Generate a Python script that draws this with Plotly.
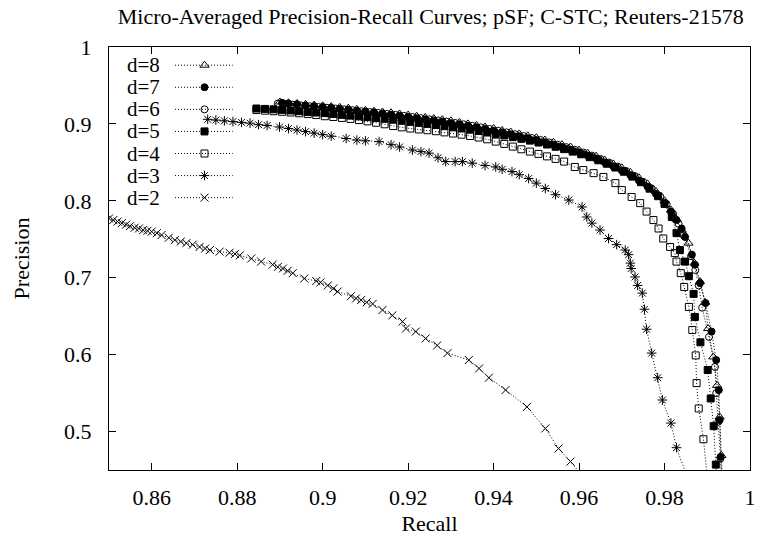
import plotly.graph_objects as go

# ---------------- data ----------------
series_names = ["d=8", "d=7", "d=6", "d=5", "d=4", "d=3", "d=2"]

recall_d8 = [0.890, 0.892, 0.894, 0.896, 0.898, 0.900, 0.902, 0.904, 0.906, 0.908,
             0.910, 0.912, 0.914, 0.916, 0.918, 0.920, 0.922, 0.924, 0.926, 0.928,
             0.930, 0.932, 0.934, 0.936, 0.938, 0.940, 0.942, 0.944, 0.946, 0.948,
             0.950, 0.952, 0.954, 0.956, 0.958, 0.960, 0.962, 0.964, 0.966, 0.968,
             0.970, 0.972, 0.974, 0.976, 0.978, 0.980, 0.9815, 0.9828, 0.9840, 0.9856,
             0.9870, 0.9883, 0.9895, 0.9902, 0.9914, 0.9923, 0.9929, 0.9933, 0.9936]
precision_d8 = [0.9285, 0.9275, 0.9265, 0.9255, 0.9245, 0.9235, 0.9225, 0.9215, 0.9205, 0.9190,
                0.9175, 0.9165, 0.9155, 0.9145, 0.9130, 0.9115, 0.9100, 0.9085, 0.9070, 0.9055,
                0.9040, 0.9020, 0.9000, 0.8980, 0.8960, 0.8940, 0.8915, 0.8895, 0.8870, 0.8845,
                0.8820, 0.8790, 0.8760, 0.8730, 0.8700, 0.8660, 0.8620, 0.8580, 0.8530, 0.8480,
                0.8430, 0.8370, 0.8300, 0.8220, 0.8120, 0.8000, 0.788, 0.776, 0.762, 0.745,
                0.719, 0.695, 0.668, 0.634, 0.597, 0.560, 0.519, 0.469, 0.430]

recall_d7 = [0.8905, 0.892, 0.894, 0.896, 0.898, 0.900, 0.902, 0.904, 0.906, 0.908,
             0.910, 0.912, 0.914, 0.916, 0.918, 0.920, 0.922, 0.924, 0.926, 0.928,
             0.930, 0.932, 0.934, 0.936, 0.938, 0.940, 0.942, 0.944, 0.946, 0.948,
             0.950, 0.952, 0.954, 0.956, 0.958, 0.960, 0.962, 0.964, 0.966, 0.968,
             0.970, 0.972, 0.974, 0.976, 0.978, 0.980, 0.9815, 0.9828, 0.9840, 0.9848,
             0.9864, 0.9871, 0.9883, 0.9896, 0.9910, 0.9921, 0.9927, 0.9929, 0.9931, 0.9934]
precision_d7 = [0.9275, 0.9265, 0.9255, 0.9240, 0.9230, 0.9220, 0.9210, 0.9195, 0.9185, 0.9170,
                0.9160, 0.9150, 0.9135, 0.9120, 0.9105, 0.9090, 0.9075, 0.9060, 0.9045, 0.9030,
                0.9010, 0.8995, 0.8975, 0.8955, 0.8935, 0.8910, 0.8890, 0.8865, 0.8840, 0.8815,
                0.8790, 0.8760, 0.8730, 0.8700, 0.8665, 0.8630, 0.8590, 0.8550, 0.8500, 0.8450,
                0.8395, 0.8335, 0.8265, 0.8185, 0.8090, 0.7975, 0.786, 0.775, 0.764, 0.753,
                0.730, 0.717, 0.693, 0.667, 0.630, 0.593, 0.554, 0.515, 0.467, 0.430]

recall_d6 = [0.8895, 0.891, 0.893, 0.895, 0.897, 0.899, 0.901, 0.903, 0.905, 0.907,
             0.909, 0.911, 0.913, 0.915, 0.917, 0.919, 0.921, 0.923, 0.925, 0.927,
             0.929, 0.931, 0.933, 0.935, 0.937, 0.939, 0.941, 0.943, 0.945, 0.947,
             0.949, 0.951, 0.953, 0.955, 0.957, 0.959, 0.961, 0.963, 0.965, 0.967,
             0.969, 0.971, 0.973, 0.975, 0.977, 0.979, 0.9805, 0.982, 0.9833, 0.9845,
             0.9862, 0.9872, 0.9880, 0.9888, 0.9904, 0.9918, 0.9921, 0.9926, 0.9931, 0.9934]
precision_d6 = [0.9265, 0.9260, 0.9250, 0.9240, 0.9230, 0.9220, 0.9210, 0.9200, 0.9190, 0.9178,
                0.9165, 0.9155, 0.9143, 0.9130, 0.9118, 0.9105, 0.9090, 0.9075, 0.9060, 0.9045,
                0.9030, 0.9012, 0.8995, 0.8975, 0.8955, 0.8935, 0.8912, 0.8890, 0.8866, 0.8842,
                0.8816, 0.8790, 0.8760, 0.8730, 0.8698, 0.8664, 0.8628, 0.8588, 0.8545, 0.8498,
                0.8445, 0.8388, 0.8322, 0.8245, 0.8158, 0.8055, 0.7955, 0.783, 0.770, 0.755,
                0.728, 0.710, 0.690, 0.661, 0.623, 0.584, 0.550, 0.513, 0.465, 0.430]

recall_d5 = [0.8845, 0.8865, 0.8885, 0.8905, 0.8925, 0.8945, 0.8965, 0.8985, 0.9005, 0.9025,
             0.9045, 0.9065, 0.9085, 0.9105, 0.9125, 0.9145, 0.9165, 0.9185, 0.9205, 0.9225,
             0.9245, 0.9265, 0.9285, 0.9305, 0.9325, 0.9345, 0.9365, 0.9385, 0.9405, 0.9425,
             0.9445, 0.9465, 0.9485, 0.9505, 0.9525, 0.9545, 0.9565, 0.9585, 0.9605, 0.9625,
             0.9645, 0.9665, 0.9685, 0.9705, 0.9725, 0.9745, 0.9765, 0.9785, 0.9800, 0.9817,
             0.9828, 0.9836, 0.9848, 0.9857, 0.9868, 0.9871, 0.9884, 0.9901, 0.9908, 0.9915,
             0.9920, 0.9923]
precision_d5 = [0.9200, 0.9195, 0.9190, 0.9182, 0.9175, 0.9165, 0.9155, 0.9148, 0.9140, 0.9130,
                0.9118, 0.9108, 0.9098, 0.9088, 0.9077, 0.9066, 0.9055, 0.9042, 0.9028, 0.9015,
                0.9000, 0.8985, 0.8970, 0.8955, 0.8940, 0.8925, 0.8908, 0.8890, 0.8870, 0.8850,
                0.8828, 0.8806, 0.8783, 0.8758, 0.8732, 0.8703, 0.8672, 0.8640, 0.8605, 0.8568,
                0.8527, 0.8482, 0.8433, 0.8378, 0.8315, 0.8242, 0.8158, 0.8060, 0.7960, 0.779,
                0.758, 0.736, 0.721, 0.702, 0.679, 0.649, 0.616, 0.580, 0.543, 0.507,
                0.457, 0.420]

recall_d4 = [0.8845, 0.8865, 0.8885, 0.8905, 0.8925, 0.8945, 0.8965, 0.8985, 0.9005, 0.9025,
             0.9045, 0.9065, 0.9085, 0.9105, 0.9125, 0.9145, 0.9165, 0.9185, 0.9205, 0.9225,
             0.9245, 0.9265, 0.9285, 0.9305, 0.9325, 0.9345, 0.9365, 0.9385, 0.9405, 0.9425,
             0.9445, 0.9465, 0.9485, 0.9505, 0.9525, 0.9545, 0.9565, 0.9590, 0.9610, 0.9634,
             0.9657, 0.9685, 0.9700, 0.9723, 0.9743, 0.9758, 0.9774, 0.9786, 0.9797, 0.9813,
             0.9824, 0.9828, 0.9838, 0.9846, 0.9857, 0.9865, 0.9873, 0.9875, 0.9880, 0.9891,
             0.9900]
precision_d4 = [0.9180, 0.9172, 0.9165, 0.9157, 0.9148, 0.9138, 0.9128, 0.9115, 0.9100, 0.9090,
                0.9078, 0.9065, 0.9050, 0.9033, 0.9015, 0.8995, 0.8972, 0.8955, 0.8940, 0.8928,
                0.8918, 0.8905, 0.8890, 0.8875, 0.8860, 0.8843, 0.8823, 0.8800, 0.8770, 0.8740,
                0.8705, 0.8670, 0.8640, 0.8610, 0.8578, 0.8545, 0.8510, 0.8440, 0.8400, 0.8360,
                0.8310, 0.8230, 0.8140, 0.8050, 0.7970, 0.7860, 0.7750, 0.7640, 0.7510, 0.7400,
                0.7320, 0.7210, 0.7060, 0.6880, 0.6620, 0.6320, 0.5990, 0.5630, 0.5300, 0.4900,
                0.4400]

recall_d3 = [0.8731, 0.8750, 0.8770, 0.8790, 0.8810, 0.8830, 0.8850, 0.8870, 0.8899, 0.8920,
             0.8940, 0.8960, 0.8980, 0.9000, 0.9020, 0.9055, 0.9080, 0.9100, 0.9132, 0.9160,
             0.9180, 0.9210, 0.9230, 0.9249, 0.9270, 0.9288, 0.9310, 0.9327, 0.9350, 0.9380,
             0.9405, 0.9420, 0.9443, 0.9460, 0.9482, 0.9500, 0.9521, 0.9545, 0.9576, 0.9607,
             0.9618, 0.9630, 0.9649, 0.9669, 0.9688, 0.9708, 0.9716, 0.9720, 0.9722, 0.9731,
             0.9737, 0.9748, 0.9753, 0.9758, 0.9770, 0.9784, 0.9795, 0.9815, 0.9828, 0.9860]
precision_d3 = [0.906, 0.905, 0.904, 0.903, 0.902, 0.901, 0.899, 0.898, 0.896, 0.894,
                0.892, 0.890, 0.888, 0.886, 0.884, 0.881, 0.879, 0.878, 0.877, 0.873,
                0.870, 0.866, 0.864, 0.862, 0.856, 0.851, 0.851, 0.851, 0.849, 0.846,
                0.844, 0.841, 0.838, 0.834, 0.829, 0.823, 0.816, 0.808, 0.801, 0.792,
                0.779, 0.771, 0.762, 0.751, 0.743, 0.736, 0.730, 0.719, 0.712, 0.701,
                0.690, 0.680, 0.659, 0.633, 0.602, 0.570, 0.541, 0.511, 0.479, 0.430]

recall_d2 = [0.8450, 0.8470, 0.8490, 0.8500, 0.8510, 0.8520, 0.8530, 0.8540, 0.8549, 0.8560,
             0.8570, 0.8580, 0.8590, 0.8600, 0.8612, 0.8623, 0.8640, 0.8654, 0.8668, 0.8681,
             0.8696, 0.8712, 0.8725, 0.8736, 0.8759, 0.8782, 0.8795, 0.8806, 0.8833, 0.8856,
             0.8883, 0.8895, 0.8907, 0.8918, 0.8930, 0.8957, 0.8985, 0.8995, 0.9012, 0.9025,
             0.9035, 0.9066, 0.9078, 0.9090, 0.9103, 0.9117, 0.9140, 0.9163, 0.9187, 0.9195,
             0.9218, 0.9241, 0.9268, 0.9292, 0.9342, 0.9366, 0.9389, 0.9428, 0.9478, 0.9521,
             0.9552, 0.9580, 0.9625]
precision_d2 = [0.784, 0.781, 0.779, 0.777, 0.775, 0.773, 0.771, 0.769, 0.767, 0.765,
                0.764, 0.762, 0.761, 0.760, 0.758, 0.7555, 0.752, 0.749, 0.747, 0.745,
                0.743, 0.740, 0.738, 0.736, 0.734, 0.7325, 0.731, 0.729, 0.725, 0.721,
                0.717, 0.714, 0.712, 0.709, 0.706, 0.699, 0.6957, 0.694, 0.690, 0.686,
                0.682, 0.676, 0.673, 0.671, 0.668, 0.666, 0.658, 0.651, 0.643, 0.634,
                0.630, 0.621, 0.612, 0.602, 0.593, 0.582, 0.570, 0.554, 0.532, 0.504,
                0.478, 0.461, 0.430]

x_tick_values = [0.86, 0.88, 0.90, 0.92, 0.94, 0.96, 0.98, 1.00]
x_tick_labels = ["0.86", "0.88", "0.9", "0.92", "0.94", "0.96", "0.98", "1"]
y_tick_values = [0.5, 0.6, 0.7, 0.8, 0.9, 1.0]
y_tick_labels = ["0.5", "0.6", "0.7", "0.8", "0.9", "1"]

title_text = "Micro-Averaged Precision-Recall Curves; pSF; C-STC; Reuters-21578"
x_title = "Recall"
y_title = "Precision"

# ---------------- styling ----------------
FONT = "Liberation Serif"
TXT = 22
LEG_TXT = 21
symbols = ["triangle-up-open", "circle", "circle-open", "square", "square-open",
           "asterisk-open", "x-thin-open"]
sizes = [8, 7, 7, 7, 7, 8, 8]
DASH = "1px,2px"

recalls = [recall_d8, recall_d7, recall_d6, recall_d5, recall_d4, recall_d3, recall_d2]
precisions = [precision_d8, precision_d7, precision_d6, precision_d5, precision_d4,
              precision_d3, precision_d2]

fig = go.Figure()

for name, xs, ys, sym, sz in zip(series_names, recalls, precisions, symbols, sizes):
    fig.add_trace(go.Scatter(
        x=xs, y=ys, mode="lines+markers", name=name, showlegend=False,
        line=dict(color="black", width=1, dash=DASH),
        marker=dict(symbol=sym, size=sz, color="black",
                    line=dict(color="black", width=1)),
    ))

# gnuplot-style key: label on the left, sample on the right (overlay axes 0..1)
LEG_TEXT_X = 0.083
LEG_X0, LEG_XM, LEG_X1 = 0.103, 0.149, 0.193
LEG_Y0, LEG_DY = 0.957, 0.0522
annotations = []
for i, (name, sym, sz) in enumerate(zip(series_names, symbols, sizes)):
    yy = LEG_Y0 - i * LEG_DY
    fig.add_trace(go.Scatter(
        x=[LEG_X0, LEG_X1], y=[yy, yy], mode="lines", xaxis="x2", yaxis="y2",
        showlegend=False, hoverinfo="skip",
        line=dict(color="black", width=1, dash=DASH)))
    fig.add_trace(go.Scatter(
        x=[LEG_XM], y=[yy], mode="markers", xaxis="x2", yaxis="y2",
        showlegend=False, hoverinfo="skip",
        marker=dict(symbol=sym, size=sz, color="black",
                    line=dict(color="black", width=1))))
    annotations.append(dict(
        x=LEG_TEXT_X, y=yy, xref="x2", yref="y2", text=name, showarrow=False,
        xanchor="right", yanchor="middle", height=20,
        font=dict(family=FONT, size=LEG_TXT, color="black")))

axis_common = dict(
    showline=True, linecolor="black", linewidth=1, mirror="ticks",
    ticks="inside", ticklen=7, tickwidth=1, tickcolor="black",
    showgrid=False, zeroline=False, ticklabeloverflow="allow", automargin=False,
    tickfont=dict(family=FONT, size=TXT, color="black"),
)

fig.update_layout(
    width=757, height=541,
    margin=dict(l=109, r=7, t=47, b=71, autoexpand=False),
    paper_bgcolor="white", plot_bgcolor="white",
    title=dict(text=title_text, x=0.569, xanchor="center", y=0.970, yanchor="middle",
               font=dict(family=FONT, size=TXT, color="black")),
    xaxis=dict(range=[0.85, 1.0], tickvals=x_tick_values, ticktext=x_tick_labels,
               ticklabelstandoff=8,
               title=dict(text=x_title, font=dict(family=FONT, size=TXT, color="black"),
                          standoff=6),
               **axis_common),
    yaxis=dict(range=[0.45, 1.0], tickvals=y_tick_values, ticktext=y_tick_labels,
               ticklabelstandoff=12,
               title=dict(text=y_title, font=dict(family=FONT, size=TXT, color="black"),
                          standoff=28),
               **axis_common),
    xaxis2=dict(range=[0, 1], overlaying="x", visible=False, anchor="y2"),
    yaxis2=dict(range=[0, 1], overlaying="y", visible=False, anchor="x2"),
    annotations=annotations,
    showlegend=False,
)

fig.write_html("out.html")
